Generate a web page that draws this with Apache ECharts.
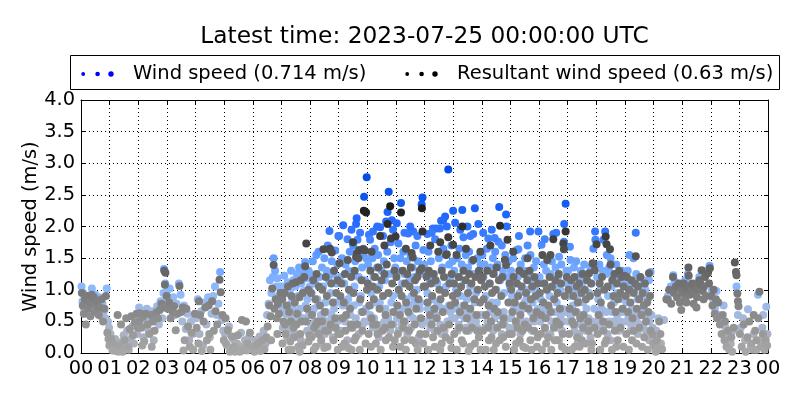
<!DOCTYPE html>
<html>
<head>
<meta charset="utf-8">
<script src="https://cdn.jsdelivr.net/npm/echarts@6/dist/echarts.min.js"></script>
<style>html,body{margin:0;padding:0;background:#fff;}#chart{width:800px;height:400px;}</style>
</head>
<body>
<div id="chart"></div>
<script>
const titleText = 'Latest time: 2023-07-25 00:00:00 UTC';
const meanWindSpeed = '0.714';
const meanResultantSpeed = '0.63';
const hourLabels = ['00','01','02','03','04','05','06','07','08','09','10','11','12','13','14','15','16','17','18','19','20','21','22','23','00'];

// [hour of day, m/s]
const windSpeedNight = [
[0.02,1.05],[0.05,0.82],[0.08,0.95],[0.11,0.7],[0.14,0.88],[0.18,0.78],[0.22,0.62],[0.26,0.9],[0.3,0.75],[0.34,0.85],[0.38,1.02],[0.42,0.8],[0.46,0.68],[0.5,0.92],[0.55,0.8],[0.6,0.72],[0.64,0.88],[0.7,0.58],[0.75,0.78],[0.8,0.66],[0.85,0.55],[0.9,1.02],[0.94,0.5],[0.98,0.4],
[1.03,0.3],[1.08,0.12],[1.13,0.05],[1.19,0.22],[1.25,0.08],[1.31,0.02],[1.37,0.17],[1.43,0.06],[1.49,0.28],[1.55,0.12],[1.61,0.35],[1.67,0.05],[1.73,0.22],[1.79,0.42],[1.85,0.15],[1.91,0.55],[1.96,0.3],
[2.03,0.72],[2.08,0.48],[2.13,0.62],[2.18,0.25],[2.24,0.55],[2.3,0.7],[2.36,0.35],[2.42,0.52],[2.48,0.66],[2.54,0.2],[2.6,0.6],[2.66,0.74],[2.72,0.45],[2.78,0.82],[2.84,0.55],[2.88,0.95],
[2.9,1.33],[2.94,1.1],[3.0,0.98],[3.05,0.82],[3.1,1.02],[3.16,0.7],[3.22,0.88],[3.28,0.6],[3.34,0.78],[3.42,1.1],[3.48,0.92],[3.54,0.5],[3.6,0.75],[3.66,0.38],[3.72,0.62],[3.78,0.2],[3.84,0.5],[3.9,0.3],[3.96,0.55],
[4.02,0.55],[4.08,0.85],[4.14,0.3],[4.2,0.66],[4.26,0.12],[4.32,0.8],[4.38,0.45],[4.44,0.88],[4.5,0.25],[4.56,0.62],[4.62,0.9],[4.68,1.05],[4.74,0.6],[4.8,0.78],[4.86,1.28],[4.92,0.52],[4.97,0.35],
[5.03,0.3],[5.1,0.12],[5.17,0.42],[5.24,0.05],[5.31,0.22],[5.38,0.02],[5.45,0.15],[5.52,0.08],[5.59,0.32],[5.66,0.1],[5.73,0.2],[5.8,0.04],[5.87,0.25],[5.94,0.06]
];
const windSpeedMorning = [
[6.03,0.1],[6.1,0.2],[6.17,0.05],[6.24,0.26],[6.31,0.1],[6.38,0.35],[6.45,0.15],[6.5,0.6],[6.55,0.78],[6.6,1.15],[6.65,0.95],[6.7,1.2],[6.73,1.5],[6.78,1.3],[6.82,1.05],[6.86,1.18],[6.9,0.9],[6.95,1.05],[6.99,0.75],
[7.02,1.05],[7.06,0.72],[7.1,1.22],[7.14,0.45],[7.18,0.95],[7.22,1.12],[7.26,0.6],[7.3,1.0],[7.34,1.3],[7.38,0.82],[7.42,1.15],[7.46,0.55],[7.5,1.05],[7.54,1.25],[7.58,0.9],[7.62,1.35],[7.66,0.7],[7.7,1.1],[7.74,1.28],[7.78,0.98],[7.83,1.44],[7.87,1.18],[7.91,0.85],[7.95,1.3],[7.99,1.05],[7.2,0.25],[7.44,0.3],[7.68,0.2],[7.9,0.35],
[7.05,0.4],[7.16,0.62],[7.29,0.38],[7.4,0.7],[7.52,0.48],[7.6,0.6],[7.76,0.55],[7.85,0.75],[7.97,0.6],
[8.02,1.25],[8.06,0.95],[8.1,1.45],[8.14,0.7],[8.18,1.1],[8.22,1.55],[8.26,0.85],[8.3,1.6],[8.34,1.2],[8.38,0.6],[8.42,1.35],[8.46,1.05],[8.5,1.5],[8.54,0.8],[8.58,1.3],[8.62,1.7],[8.66,1.15],[8.68,1.93],[8.72,0.95],[8.76,1.45],[8.8,1.25],[8.84,0.7],[8.88,1.62],[8.92,1.1],[8.96,1.4],[8.99,1.85],[8.12,0.3],[8.4,0.15],[8.6,0.4],[8.8,0.25],[8.95,0.5],
[8.04,0.45],[8.09,0.65],[8.17,0.5],[8.28,0.75],[8.36,0.4],[8.45,0.55],[8.52,0.3],[8.57,0.65],[8.65,0.5],[8.74,0.6],[8.86,0.4],[8.9,0.8],
[9.02,1.85],[9.05,1.2],[9.08,0.85],[9.12,1.5],[9.16,2.02],[9.2,1.1],[9.24,1.4],[9.28,0.75],[9.31,1.8],[9.35,1.3],[9.39,1.6],[9.43,0.95],[9.47,1.25],[9.51,1.7],[9.55,1.05],[9.58,1.45],[9.61,2.04],[9.63,2.13],[9.66,1.79],[9.7,1.2],[9.74,1.55],[9.78,0.9],[9.82,1.35],[9.86,1.65],[9.89,2.47],[9.92,1.15],[9.96,1.5],[9.98,2.78],[9.1,0.35],[9.3,0.2],[9.5,0.45],[9.7,0.3],[9.9,0.5],[9.4,0.6],[9.8,0.65],
[9.04,0.55],[9.14,0.75],[9.22,0.5],[9.33,0.85],[9.42,0.4],[9.53,0.75],[9.6,0.55],[9.72,0.8],[9.84,0.45],[9.95,0.7],[9.45,1.95],[9.75,1.9],
[10.03,1.4],[10.06,1.87],[10.1,1.79],[10.14,0.95],[10.18,1.5],[10.22,1.2],[10.26,1.65],[10.3,0.8],[10.34,1.35],[10.38,1.55],[10.42,1.05],[10.45,1.99],[10.5,1.3],[10.54,0.7],[10.58,1.45],[10.62,1.15],[10.66,2.08],[10.7,1.6],[10.71,2.23],[10.75,2.55],[10.78,1.25],[10.82,1.75],[10.86,2.1],[10.9,0.9],[10.94,1.5],[10.98,1.35],[10.2,0.4],[10.4,0.25],[10.6,0.5],[10.8,0.35],[10.1,0.6],
[10.04,0.5],[10.12,0.75],[10.24,0.55],[10.32,0.4],[10.44,0.8],[10.52,0.45],[10.64,0.7],[10.73,0.55],[10.84,0.8],[10.92,0.45],[10.97,0.65],[10.2,1.92],[10.35,2.0],[10.55,1.85],[10.9,1.95],
[11.03,2.05],[11.06,1.3],[11.09,1.73],[11.12,0.95],[11.16,1.5],[11.18,2.37],[11.22,1.1],[11.26,1.6],[11.3,1.25],[11.34,0.85],[11.38,1.45],[11.43,1.89],[11.47,1.15],[11.51,1.55],[11.55,0.9],[11.58,1.35],[11.61,1.92],[11.65,1.2],[11.69,1.7],[11.73,1.0],[11.77,1.45],[11.81,1.25],[11.85,0.8],[11.9,2.35],[11.93,2.46],[11.96,1.63],[11.99,1.4],[11.2,0.45],[11.4,0.3],[11.6,0.55],[11.8,0.25],[11.5,0.6],
[11.04,0.55],[11.1,0.35],[11.24,0.7],[11.32,0.5],[11.44,0.75],[11.53,0.4],[11.64,0.8],[11.72,0.5],[11.84,0.7],[11.92,0.45],[11.3,1.9],[11.5,2.0],[11.75,1.85]
];
const windSpeedAfternoon = [
[12.03,1.3],[12.07,1.21],[12.1,0.95],[12.14,1.6],[12.18,1.15],[12.22,1.45],[12.26,0.85],[12.3,1.97],[12.33,1.25],[12.37,1.8],[12.42,1.97],[12.45,1.1],[12.5,1.5],[12.54,1.97],[12.58,2.09],[12.62,1.35],[12.66,1.65],[12.72,2.16],[12.75,1.05],[12.78,2.0],[12.83,2.9],[12.86,1.4],[12.9,1.2],[12.94,1.7],[12.98,1.45],[12.2,0.4],[12.4,0.6],[12.6,0.3],[12.8,0.5],[12.5,0.75],[12.9,0.65],
[12.05,0.5],[12.12,0.7],[12.24,0.55],[12.35,0.35],[12.44,0.8],[12.55,0.45],[12.65,0.7],[12.7,0.35],[12.85,0.75],[12.96,0.55],[12.1,1.88],[12.25,1.9],[12.65,2.1],
[13.0,2.25],[13.04,1.3],[13.07,2.06],[13.1,1.0],[13.14,1.5],[13.18,1.2],[13.22,1.65],[13.26,0.9],[13.3,1.4],[13.32,2.26],[13.36,1.83],[13.4,1.15],[13.44,1.55],[13.48,0.85],[13.52,1.35],[13.56,1.6],[13.6,1.05],[13.65,1.45],[13.7,1.88],[13.73,1.25],[13.76,2.29],[13.8,0.95],[13.84,1.5],[13.88,2.04],[13.92,1.2],[13.96,1.4],[13.2,0.45],[13.4,0.55],[13.55,0.35],[13.7,0.6],[13.85,0.4],[13.1,0.7],
[13.05,0.55],[13.15,0.35],[13.25,0.6],[13.35,0.75],[13.45,0.4],[13.5,0.65],[13.62,0.5],[13.75,0.8],[13.8,0.5],[13.95,0.6],[13.25,1.95],[13.5,2.0],[13.6,1.85],
[14.02,1.55],[14.06,1.2],[14.1,1.4],[14.14,0.9],[14.18,1.65],[14.23,1.81],[14.27,1.1],[14.31,1.35],[14.35,0.8],[14.39,1.5],[14.43,1.25],[14.47,1.6],[14.51,1.0],[14.55,1.4],[14.58,1.76],[14.61,2.31],[14.65,1.15],[14.7,1.7],[14.74,1.3],[14.78,0.95],[14.82,1.55],[14.85,2.19],[14.87,2.0],[14.9,1.2],[14.94,1.45],[14.98,1.05],[14.2,0.5],[14.4,0.35],[14.6,0.6],[14.8,0.45],[14.3,0.65],[14.7,0.3],
[14.05,0.6],[14.12,0.4],[14.25,0.75],[14.33,0.45],[14.45,0.55],[14.53,0.8],[14.66,0.45],[14.77,0.65],[14.86,0.55],[14.96,0.4],[14.05,1.9],[14.35,1.95],[14.45,1.82],
[15.02,1.3],[15.06,0.9],[15.1,1.5],[15.14,1.1],[15.18,0.75],[15.22,1.63],[15.26,1.2],[15.28,1.64],[15.32,0.95],[15.36,1.4],[15.4,1.05],[15.44,0.7],[15.48,1.3],[15.52,1.5],[15.56,0.85],[15.6,1.2],[15.64,1.0],[15.69,1.92],[15.7,1.55],[15.74,1.15],[15.78,0.8],[15.82,1.35],[15.86,1.0],[15.9,1.45],[15.94,0.9],[15.98,1.92],[15.15,0.4],[15.35,0.3],[15.55,0.5],[15.75,0.35],[15.9,0.55],
[15.04,0.55],[15.12,0.7],[15.24,0.45],[15.33,0.65],[15.42,0.5],[15.5,0.8],[15.62,0.45],[15.72,0.65],[15.84,0.5],[15.96,0.7],[15.3,1.85],[15.6,1.7],
[16.02,1.2],[16.06,0.85],[16.09,1.71],[16.13,1.1],[16.17,1.4],[16.21,0.75],[16.25,1.3],[16.29,1.0],[16.33,1.5],[16.37,0.9],[16.41,1.25],[16.45,1.45],[16.5,1.88],[16.54,1.05],[16.58,1.35],[16.62,0.8],[16.66,1.2],[16.7,1.52],[16.74,1.0],[16.78,1.4],[16.82,0.7],[16.87,1.76],[16.88,2.04],[16.93,2.36],[16.96,1.3],[16.99,1.1],[16.2,0.4],[16.4,0.3],[16.6,0.5],[16.8,0.35],[16.3,0.55],[16.7,0.2],
[16.04,0.5],[16.14,0.65],[16.23,0.3],[16.35,0.7],[16.43,0.5],[16.56,0.65],[16.64,0.4],[16.76,0.6],[16.84,0.5],[16.95,0.65],[16.2,1.8],[16.6,1.9],
[17.02,1.3],[17.05,0.9],[17.08,1.68],[17.1,1.47],[17.14,1.1],[17.18,0.75],[17.22,1.35],[17.26,1.0],[17.3,1.45],[17.34,0.85],[17.38,1.2],[17.42,0.6],[17.46,1.3],[17.5,1.05],[17.54,0.8],[17.58,1.4],[17.62,1.15],[17.66,0.7],[17.7,1.25],[17.75,0.95],[17.8,1.35],[17.84,1.1],[17.9,1.65],[17.96,1.92],[17.97,1.79],[17.2,0.45],[17.4,0.3],[17.6,0.5],[17.8,0.25],[17.35,0.15],[17.7,0.4],
[17.04,0.5],[17.12,0.6],[17.24,0.35],[17.32,0.65],[17.44,0.45],[17.52,0.6],[17.64,0.35],[17.73,0.55],[17.86,0.5],[17.93,0.7]
];
const windSpeedEvening = [
[18.03,1.2],[18.07,0.85],[18.11,1.4],[18.15,1.0],[18.19,0.7],[18.23,1.3],[18.25,1.79],[18.31,1.92],[18.34,1.25],[18.37,1.55],[18.41,0.9],[18.45,1.35],[18.5,1.5],[18.54,1.05],[18.58,1.25],[18.62,0.8],[18.66,1.15],[18.7,1.4],[18.74,0.95],[18.78,1.2],[18.82,0.65],[18.86,1.1],[18.9,1.3],[18.94,0.85],[18.98,1.05],[18.2,0.4],[18.4,0.3],[18.6,0.5],[18.8,0.35],[18.5,0.2],
[18.05,0.5],[18.13,0.6],[18.22,0.45],[18.35,0.65],[18.44,0.5],[18.55,0.65],[18.64,0.45],[18.73,0.6],[18.84,0.5],[18.92,0.65],
[19.02,1.15],[19.06,0.8],[19.1,1.3],[19.14,0.95],[19.16,1.55],[19.2,1.1],[19.25,0.7],[19.3,1.5],[19.34,1.0],[19.38,1.9],[19.4,1.25],[19.44,0.85],[19.48,1.2],[19.52,0.6],[19.56,1.05],[19.6,0.9],[19.64,1.15],[19.68,0.75],[19.72,1.0],[19.76,0.55],[19.8,0.85],[19.84,1.15],[19.9,1.28],[19.93,0.6],[19.97,0.4],[19.2,0.35],[19.45,0.3],[19.65,0.45],[19.85,0.2],[19.35,0.5],
[19.04,0.5],[19.12,0.6],[19.22,0.45],[19.32,0.65],[19.42,0.5],[19.55,0.4],[19.62,0.65],[19.74,0.35],[19.86,0.5],
[20.02,0.25],[20.06,0.1],[20.1,0.35],[20.14,0.05],[20.17,0.55],[20.22,0.53],[20.26,0.15],[20.37,0.52],[20.5,0.9],[20.6,1.05],[20.69,1.23],[20.75,1.13],[20.85,0.95],[20.95,1.1],
[21.03,1.05],[21.1,1.15],[21.2,1.25],[21.3,0.95],[21.45,1.1],[21.6,1.2],[21.7,1.0],[21.85,1.3],[21.96,1.38],
[22.03,1.0],[22.08,0.85],[22.15,0.7],[22.2,0.98],[22.28,0.6],[22.35,0.52],[22.45,0.75],[22.52,0.4],[22.6,0.25],[22.7,0.15],[22.78,0.35],[22.9,1.05],[22.95,0.6],
[23.05,0.4],[23.13,0.55],[23.2,0.2],[23.3,0.69],[23.4,0.1],[23.5,0.3],[23.6,0.05],[23.65,0.92],[23.72,0.2],[23.8,0.4],[23.83,0.6],[23.9,0.15],[23.94,0.73],[23.98,0.3]
];

const resultantNight = [
[0.03,0.95],[0.06,0.75],[0.1,0.62],[0.13,0.85],[0.17,0.45],[0.21,0.9],[0.25,0.7],[0.29,0.8],[0.33,0.58],[0.37,0.92],[0.41,0.78],[0.45,0.88],[0.49,0.65],[0.53,0.75],[0.57,0.82],[0.62,0.6],[0.67,0.72],[0.72,0.85],[0.77,0.5],[0.82,0.7],[0.87,0.9],[0.92,0.32],[0.96,0.22],[0.99,0.12],
[1.05,0.22],[1.1,0.04],[1.16,0.14],[1.22,0.03],[1.28,0.6],[1.34,0.12],[1.4,0.45],[1.46,0.02],[1.52,0.2],[1.58,0.55],[1.64,0.1],[1.7,0.38],[1.76,0.58],[1.82,0.28],[1.88,0.48],[1.94,0.62],[1.99,0.4],
[2.02,0.5],[2.06,0.63],[2.11,0.4],[2.16,0.57],[2.21,0.18],[2.27,0.62],[2.33,0.45],[2.39,0.3],[2.45,0.6],[2.51,0.5],[2.57,0.35],[2.63,0.64],[2.69,0.55],[2.75,0.68],[2.81,0.78],[2.86,0.72],[2.14,0.12],[2.47,0.1],
[2.91,1.3],[2.95,1.27],[2.93,1.08],[2.99,0.9],[3.03,0.7],[3.08,0.8],[3.13,0.55],[3.19,0.66],[3.25,0.74],[3.31,0.36],[3.37,0.62],[3.44,1.06],[3.5,0.65],[3.56,0.72],[3.62,0.2],[3.68,0.7],[3.74,0.42],[3.8,0.1],[3.86,0.32],[3.92,0.05],[3.98,0.62],[3.58,0.04],
[4.04,0.4],[4.1,0.15],[4.16,0.6],[4.22,0.03],[4.28,0.5],[4.34,0.72],[4.4,0.2],[4.46,0.75],[4.52,0.05],[4.58,0.82],[4.64,0.35],[4.7,0.66],[4.76,0.45],[4.84,1.16],[4.88,0.96],[4.94,0.6],[4.99,0.2],[4.12,0.82],[4.48,0.3],
[5.06,0.15],[5.13,0.36],[5.2,0.02],[5.27,0.26],[5.34,0.1],[5.41,0.07],[5.48,0.28],[5.55,0.02],[5.62,0.52],[5.69,0.05],[5.76,0.5],[5.83,0.15],[5.9,0.32],[5.97,0.1],[5.05,0.55]
];
const resultantMorning = [
[6.06,0.02],[6.13,0.12],[6.2,0.16],[6.27,0.03],[6.34,0.2],[6.41,0.06],[6.48,0.25],[6.52,0.42],[6.58,0.75],[6.62,0.58],[6.68,1.02],[6.73,1.39],[6.76,0.7],[6.8,0.85],[6.84,0.55],[6.88,0.78],[6.92,0.62],[6.97,0.95],[6.64,0.2],[6.86,0.3],
[7.03,0.85],[7.07,0.5],[7.11,0.95],[7.15,0.3],[7.19,0.75],[7.23,1.05],[7.27,0.65],[7.31,0.18],[7.35,0.9],[7.39,1.1],[7.43,0.4],[7.47,0.8],[7.51,1.12],[7.55,0.62],[7.59,0.1],[7.63,0.88],[7.67,1.15],[7.71,0.5],[7.75,0.95],[7.8,1.2],[7.83,1.37],[7.87,1.73],[7.9,0.7],[7.94,1.0],[7.98,0.28],[7.36,0.05],[7.64,0.02],
[7.04,0.15],[7.13,0.45],[7.25,0.05],[7.33,0.5],[7.45,0.25],[7.53,0.45],[7.66,0.3],[7.74,0.12],[7.86,0.5],[7.95,0.18],
[8.03,0.95],[8.07,0.6],[8.11,1.15],[8.15,0.4],[8.19,0.85],[8.23,1.25],[8.27,0.5],[8.31,1.05],[8.35,0.75],[8.39,0.2],[8.43,1.0],[8.47,1.64],[8.51,0.65],[8.55,1.2],[8.59,0.9],[8.63,0.35],[8.68,1.64],[8.7,1.65],[8.74,1.1],[8.76,1.59],[8.8,0.8],[8.84,1.3],[8.88,0.55],[8.92,0.95],[8.96,1.15],[8.99,0.3],[8.5,0.08],[8.2,0.1],
[8.05,0.25],[8.13,0.05],[8.21,0.45],[8.3,0.3],[8.42,0.5],[8.53,0.35],[8.61,0.1],[8.72,0.45],[8.82,0.2],[8.9,0.4],[8.97,0.05],
[9.03,1.42],[9.06,0.9],[9.1,1.1],[9.14,0.55],[9.18,0.8],[9.22,1.25],[9.26,0.6],[9.32,1.47],[9.36,1.0],[9.4,0.7],[9.44,1.2],[9.48,0.4],[9.52,0.95],[9.56,1.3],[9.61,1.52],[9.64,1.58],[9.69,1.5],[9.72,1.63],[9.76,0.85],[9.8,1.15],[9.84,0.65],[9.86,1.64],[9.88,2.25],[9.92,1.62],[9.96,2.22],[9.99,1.0],[9.2,0.15],[9.6,0.25],[9.45,0.05],
[9.05,0.3],[9.12,0.1],[9.24,0.35],[9.34,0.08],[9.42,0.45],[9.55,0.2],[9.65,0.45],[9.74,0.05],[9.83,0.35],[9.94,0.15],[9.5,1.75],
[10.02,1.1],[10.07,0.75],[10.11,1.3],[10.15,0.55],[10.19,1.05],[10.23,0.85],[10.27,1.2],[10.31,0.45],[10.35,1.0],[10.39,1.35],[10.43,0.7],[10.45,1.85],[10.5,1.15],[10.55,0.9],[10.6,1.25],[10.64,0.6],[10.68,1.4],[10.71,2.04],[10.74,0.95],[10.8,2.32],[10.83,1.81],[10.87,1.1],[10.91,0.65],[10.95,1.3],[10.99,1.84],[10.3,0.15],[10.65,0.2],[10.9,0.1],
[10.05,0.3],[10.13,0.1],[10.21,0.45],[10.36,0.3],[10.47,0.05],[10.53,0.35],[10.62,0.4],[10.76,0.25],[10.85,0.45],[10.96,0.2],[10.15,1.6],[10.6,1.7],
[11.02,1.2],[11.05,0.75],[11.1,1.0],[11.14,0.6],[11.18,2.22],[11.2,0.9],[11.24,1.3],[11.28,0.5],[11.32,1.1],[11.36,0.8],[11.4,1.25],[11.44,0.65],[11.48,1.05],[11.52,1.35],[11.55,1.58],[11.59,1.51],[11.63,0.95],[11.67,1.15],[11.71,0.7],[11.75,1.2],[11.79,0.85],[11.83,1.3],[11.87,0.55],[11.91,2.29],[11.93,1.92],[11.9,1.34],[11.97,1.05],[11.3,0.2],[11.7,0.15],
[11.07,0.3],[11.16,0.1],[11.26,0.4],[11.35,0.05],[11.46,0.35],[11.56,0.2],[11.66,0.45],[11.76,0.05],[11.85,0.3],[11.95,0.15],[11.35,1.65]
];
const resultantAfternoon = [
[12.02,1.05],[12.07,1.21],[12.11,0.8],[12.15,1.3],[12.19,0.6],[12.23,1.1],[12.27,0.9],[12.31,1.25],[12.35,0.7],[12.39,1.15],[12.43,0.55],[12.48,1.6],[12.52,1.0],[12.56,0.85],[12.6,1.3],[12.64,0.65],[12.68,1.2],[12.72,0.95],[12.75,1.55],[12.78,1.56],[12.83,1.83],[12.87,1.1],[12.91,0.75],[12.95,1.25],[12.99,0.9],[12.3,0.25],[12.6,0.15],[12.9,0.2],
[12.04,0.3],[12.13,0.05],[12.25,0.45],[12.36,0.1],[12.45,0.35],[12.55,0.05],[12.66,0.4],[12.74,0.25],[12.86,0.45],[12.94,0.08],[12.2,1.7],[12.55,1.75],
[13.0,1.71],[13.03,1.1],[13.07,0.8],[13.12,1.55],[13.15,0.95],[13.2,1.2],[13.24,0.65],[13.28,1.05],[13.32,2.0],[13.36,1.3],[13.4,0.75],[13.44,1.15],[13.48,0.55],[13.52,0.95],[13.56,1.25],[13.6,0.7],[13.64,1.1],[13.7,1.47],[13.74,0.85],[13.78,1.2],[13.82,0.6],[13.86,1.0],[13.9,1.3],[13.94,0.8],[13.98,1.15],[13.3,0.2],[13.6,0.1],[13.9,0.25],
[13.04,0.3],[13.13,0.05],[13.22,0.4],[13.35,0.15],[13.46,0.35],[13.54,0.03],[13.66,0.4],[13.76,0.15],[13.84,0.35],[13.96,0.05],[13.45,1.65],[13.95,1.6],
[14.03,1.2],[14.07,0.85],[14.11,1.05],[14.15,0.6],[14.19,1.3],[14.24,0.75],[14.28,1.1],[14.32,0.5],[14.36,0.95],[14.4,1.25],[14.44,0.7],[14.48,1.0],[14.52,1.35],[14.56,0.65],[14.6,1.15],[14.64,2.01],[14.68,0.9],[14.72,1.2],[14.76,0.55],[14.81,1.47],[14.85,1.39],[14.9,1.79],[14.93,0.8],[14.97,1.1],[14.25,0.2],[14.5,0.15],[14.75,0.25],
[14.04,0.35],[14.14,0.05],[14.22,0.4],[14.34,0.25],[14.42,0.05],[14.54,0.4],[14.63,0.2],[14.73,0.45],[14.84,0.1],[14.95,0.3],[14.3,1.7],
[15.03,1.0],[15.07,0.65],[15.11,1.2],[15.15,0.8],[15.19,0.5],[15.23,1.1],[15.27,0.9],[15.31,1.3],[15.35,0.6],[15.39,1.05],[15.43,0.75],[15.47,1.25],[15.51,0.45],[15.55,0.95],[15.59,1.15],[15.63,0.7],[15.67,1.3],[15.72,0.85],[15.76,1.05],[15.8,0.55],[15.84,1.2],[15.88,0.9],[15.92,0.65],[15.96,1.1],[15.2,0.15],[15.45,0.1],[15.7,0.2],[15.95,0.25],
[15.05,0.3],[15.13,0.05],[15.25,0.4],[15.33,0.2],[15.42,0.35],[15.53,0.08],[15.62,0.4],[15.74,0.05],[15.83,0.35],[15.93,0.1],[15.1,1.6],[15.6,1.5],
[16.03,0.95],[16.07,0.6],[16.12,1.55],[16.15,0.8],[16.19,1.1],[16.23,0.55],[16.27,1.0],[16.29,1.47],[16.33,0.75],[16.37,1.2],[16.41,0.65],[16.45,1.05],[16.5,1.8],[16.53,0.85],[16.57,1.15],[16.61,0.5],[16.65,0.95],[16.69,1.25],[16.73,0.7],[16.77,1.1],[16.85,1.73],[16.87,1.64],[16.93,1.92],[16.9,0.9],[16.97,1.2],[16.25,0.15],[16.55,0.2],[16.8,0.1],
[16.05,0.3],[16.1,0.05],[16.21,0.4],[16.32,0.25],[16.43,0.05],[16.52,0.4],[16.63,0.2],[16.72,0.45],[16.83,0.3],[16.92,0.05],[16.4,1.55],
[17.03,1.0],[17.07,0.7],[17.12,1.15],[17.16,0.5],[17.2,0.9],[17.24,1.2],[17.28,0.65],[17.32,1.05],[17.36,0.8],[17.4,1.1],[17.44,0.55],[17.48,0.95],[17.52,1.25],[17.56,0.6],[17.6,1.0],[17.64,0.85],[17.68,1.15],[17.72,0.5],[17.75,1.26],[17.78,0.9],[17.82,1.1],[17.87,1.42],[17.9,1.41],[17.95,1.31],[17.25,0.1],[17.5,0.2],[17.85,0.15],
[17.05,0.3],[17.14,0.05],[17.22,0.45],[17.33,0.25],[17.42,0.1],[17.54,0.4],[17.63,0.15],[17.74,0.35],[17.83,0.05],[17.94,0.4]
];
const resultantEvening = [
[18.01,1.72],[18.04,0.95],[18.08,0.6],[18.12,1.1],[18.16,0.8],[18.2,1.2],[18.24,0.5],[18.28,1.0],[18.33,1.84],[18.36,1.72],[18.4,1.05],[18.48,1.64],[18.5,1.4],[18.52,0.75],[18.56,1.15],[18.6,0.9],[18.64,1.25],[18.68,0.65],[18.72,1.1],[18.76,0.85],[18.8,1.3],[18.84,0.95],[18.88,1.2],[18.92,0.7],[18.96,1.05],[18.99,1.22],[18.3,0.15],[18.7,0.1],
[18.05,0.3],[18.14,0.05],[18.25,0.35],[18.35,0.2],[18.45,0.45],[18.55,0.05],[18.65,0.35],[18.75,0.2],[18.85,0.4],[18.95,0.1],
[19.03,0.9],[19.07,1.2],[19.11,0.65],[19.15,1.0],[19.19,0.8],[19.23,1.15],[19.27,0.55],[19.31,0.95],[19.38,1.53],[19.36,1.1],[19.42,0.7],[19.46,1.05],[19.5,0.85],[19.54,1.2],[19.58,0.6],[19.62,0.95],[19.66,0.75],[19.7,1.1],[19.74,0.5],[19.78,0.8],[19.84,1.26],[19.82,0.65],[19.88,0.9],[19.95,0.3],[19.99,0.15],[19.25,0.2],[19.6,0.1],
[19.05,0.3],[19.14,0.05],[19.3,0.35],[19.4,0.15],[19.5,0.4],[19.68,0.25],[19.8,0.05],[19.9,0.35],
[20.03,0.12],[20.08,0.02],[20.12,0.2],[20.16,0.08],[20.2,0.5],[20.24,0.3],[20.3,0.06],[20.45,0.85],[20.5,0.84],[20.55,1.0],[20.62,0.78],[20.68,1.2],[20.72,0.95],[20.78,1.05],[20.82,0.88],[20.88,1.1],[20.92,0.8],[20.97,0.68],[20.99,1.0],
[21.02,0.95],[21.06,1.1],[21.1,0.85],[21.14,1.0],[21.18,1.05],[21.22,1.35],[21.23,1.22],[21.27,0.92],[21.31,1.0],[21.35,1.1],[21.4,0.78],[21.44,0.95],[21.48,1.05],[21.52,0.88],[21.56,1.0],[21.6,1.15],[21.64,1.1],[21.68,1.31],[21.72,0.98],[21.76,1.05],[21.8,1.2],[21.84,0.9],[21.9,1.26],[21.94,1.1],[21.97,1.34],[21.5,0.72],[21.15,0.8],[21.75,0.85],
[22.02,0.9],[22.06,0.75],[22.1,1.0],[22.14,0.62],[22.18,0.85],[22.22,0.55],[22.26,0.8],[22.32,0.45],[22.38,0.3],[22.42,0.6],[22.48,0.2],[22.55,0.1],[22.6,0.35],[22.65,0.05],[22.72,0.25],[22.8,0.4],[22.84,1.43],[22.88,1.28],[22.9,1.23],[22.93,0.94],[22.95,0.82],[22.97,0.74],[22.5,0.5],[22.75,0.02],
[23.02,0.3],[23.08,0.1],[23.15,0.45],[23.22,0.02],[23.28,0.25],[23.35,0.5],[23.42,0.15],[23.48,0.05],[23.55,0.35],[23.6,0.2],[23.7,0.97],[23.66,0.55],[23.75,0.1],[23.82,0.3],[23.88,0.05],[23.92,0.2],[23.97,0.12],[23.5,0.6]
];

const windName = 'Wind speed (' + meanWindSpeed + ' m/s)';
const resName = 'Resultant wind speed (' + meanResultantSpeed + ' m/s)';
const dotsIcon = 'path://M0,0M0.3,3a1.9,1.9 0 1,0 3.8,0a1.9,1.9 0 1,0 -3.8,0ZM14.3,3a2.3,2.3 0 1,0 4.6,0a2.3,2.3 0 1,0 -4.6,0ZM27.3,3a2.7,2.7 0 1,0 5.4,0a2.7,2.7 0 1,0 -5.4,0ZM47,6';
const FONT = 'DejaVu Sans';
const gridLine = {show: true, lineStyle: {color: '#000', width: 1, type: [1, 3]}};

const chart = echarts.init(document.getElementById('chart'), null, {renderer: 'canvas'});
const legendCommon = {
  orient: 'horizontal', padding: 0, top: 64, itemWidth: 47, itemHeight: 6, icon: dotsIcon,
  selectedMode: false, textStyle: {fontFamily: FONT, fontSize: 19.5, color: '#000'}
};
chart.setOption({
  animation: false,
  backgroundColor: '#fff',
  textStyle: {fontFamily: FONT},
  title: {
    text: titleText, left: 424.5, top: 25, padding: 0, textAlign: 'center',
    textStyle: {fontFamily: FONT, fontSize: 23.3, fontWeight: 'normal', color: '#000'}
  },
  graphic: [{
    type: 'rect', z: 0, silent: true,
    shape: {x: 70.5, y: 55.5, width: 709, height: 34},
    style: {fill: '#fff', stroke: '#000', lineWidth: 1}
  }],
  legend: [
    Object.assign({}, legendCommon, {left: 81, data: [{name: windName, itemStyle: {color: '#0000ff'}}]}),
    Object.assign({}, legendCommon, {left: 405, data: [{name: resName, itemStyle: {color: '#000000'}}]})
  ],
  grid: {left: 81, right: 32, top: 100, bottom: 47, containLabel: false},
  xAxis: [{
    type: 'value', min: 0, max: 24, interval: 1, position: 'bottom',
    axisLine: {show: true, onZero: false, lineStyle: {color: '#000', width: 1}},
    axisTick: {show: true, inside: true, length: 4, lineStyle: {color: '#000'}},
    axisLabel: {margin: 6, fontSize: 19.4, color: '#000', fontFamily: FONT, showMinLabel: true, showMaxLabel: true,
      formatter: v => hourLabels[Math.round(v)]},
    splitLine: gridLine
  }, {
    type: 'value', min: 0, max: 24, interval: 1, position: 'top',
    axisLine: {show: true, onZero: false, lineStyle: {color: '#000', width: 1}},
    axisTick: {show: true, inside: true, length: 4, lineStyle: {color: '#000'}},
    axisLabel: {show: false}, splitLine: {show: false}
  }],
  yAxis: [{
    type: 'value', min: 0, max: 4, interval: 0.5, position: 'left',
    name: 'Wind speed (m/s)', nameLocation: 'middle', nameGap: 41, nameMoveOverlap: false,
    nameTextStyle: {fontSize: 19.4, color: '#000', fontFamily: FONT},
    axisLine: {show: true, onZero: false, lineStyle: {color: '#000', width: 1}},
    axisTick: {show: true, inside: true, length: 4, lineStyle: {color: '#000'}},
    axisLabel: {margin: 6, fontSize: 19.4, color: '#000', fontFamily: FONT, formatter: v => v.toFixed(1)},
    splitLine: gridLine
  }, {
    type: 'value', min: 0, max: 4, interval: 0.5, position: 'right',
    axisLine: {show: true, onZero: false, lineStyle: {color: '#000', width: 1}},
    axisTick: {show: true, inside: true, length: 4, lineStyle: {color: '#000'}},
    axisLabel: {show: false}, splitLine: {show: false}
  }],
  visualMap: [{
    type: 'continuous', show: false, seriesIndex: 0, dimension: 1, min: 0, max: 3,
    inRange: {color: ['#aaaaaa', '#a8b8d6', '#8fbaff', '#66a0ff', '#2b6fff', '#0a55f2', '#0044e6']}
  }, {
    type: 'continuous', show: false, seriesIndex: 1, dimension: 1, min: 0, max: 3,
    inRange: {color: ['#a8a8a8', '#909090', '#777777', '#585858', '#2e2e2e', '#141414', '#000000']}
  }],
  series: [{
    name: windName, type: 'scatter', symbol: 'circle', symbolSize: 8,
    itemStyle: {color: '#0000ff', opacity: 1},
    emphasis: {disabled: true},
    data: [].concat(windSpeedNight, windSpeedMorning, windSpeedAfternoon, windSpeedEvening)
  }, {
    name: resName, type: 'scatter', symbol: 'circle', symbolSize: 8,
    itemStyle: {color: '#000000', opacity: 1},
    emphasis: {disabled: true},
    data: [].concat(resultantNight, resultantMorning, resultantAfternoon, resultantEvening)
  }]
});
</script>
</body>
</html>
